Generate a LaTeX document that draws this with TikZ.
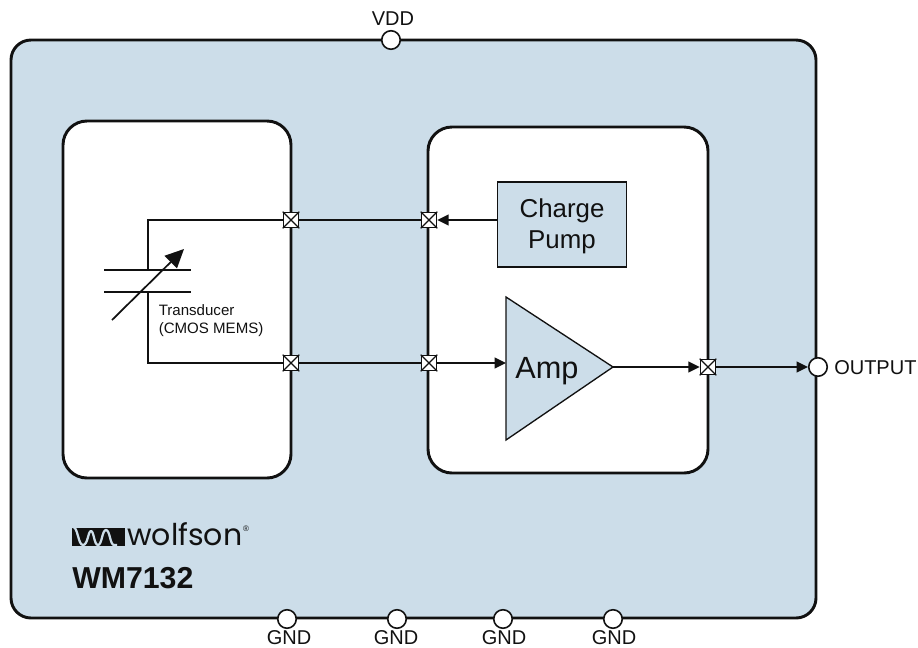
\documentclass[tikz,border=0pt]{standalone}
\usepackage{fontspec}
\setmainfont{Liberation Sans}
\newfontfamily\logofont{Poppins}
\usetikzlibrary{arrows.meta,shapes.geometric}
\definecolor{chipblue}{HTML}{CCDDE9}
\definecolor{ink}{HTML}{111111}
\tikzset{
  chip/.style={draw=ink,line width=2.2pt,fill=chipblue,rounded corners=15pt},
  block/.style={draw=ink,line width=2.2pt,fill=white,rounded corners=18pt},
  pin/.style={circle,draw=ink,line width=1.2pt,fill=white,minimum size=18.5pt*0.75,inner sep=0pt},
  portbox/.style={rectangle,draw=ink,line width=1.2pt,fill=white,minimum size=15pt*0.75,inner sep=0pt},
  wire/.style={draw=ink,line width=1.3pt},
  sig/.style={wire,-{Triangle[length=8.5pt,width=8pt]}},
  lbl/.style={font=\fontsize{15}{17}\selectfont,text=ink,inner sep=0pt},
  blk/.style={draw=ink,line width=1pt,fill=chipblue},
}
\newcommand{\portat}[2]{%
  \node[portbox] (#1) at (#2) {};
  \draw[ink,line width=0.9pt] (#1.north west)--(#1.south east) (#1.north east)--(#1.south west);}
\begin{document}
\begin{tikzpicture}[x=0.75pt,y=-0.75pt]
\useasboundingbox (0,0) rectangle (918,647);
\fill[white] (0,0) rectangle (918,647);
\draw[chip] (11,40) rectangle (816,618);
\draw[block] (63,121) rectangle (291,478);
\draw[block] (428,127) rectangle (708,473);
% pins
\node[pin] (vdd) at (391,40) {};
\node[lbl] (vddl) at (393,19) {VDD};
\node[pin] (out) at (818,367) {};
\node[lbl,anchor=west] (outl) at (834,368) {OUTPUT};
\foreach \n/\x/\tx in {g1/287/289,g2/397/396,g3/503/504,g4/613/614}{
  \node[pin] (\n) at (\x,619) {};
  \node[lbl,anchor=base] at (\tx,644) {GND};
}
% blocks
\node[blk,minimum width=129pt*0.75,minimum height=85pt*0.75,inner sep=0pt] (cp) at (562,224.5) {};
\node[align=center,inner sep=0pt,text=ink,font=\fontsize{19.4}{23.2}\selectfont] (cpl) at (562,226.5) {Charge\\Pump};
\coordinate (a1) at (506,297);
\coordinate (a2) at (506,440);
\coordinate (a3) at (613,367);
\draw[blk] (a1)--(a3)--(a2)--cycle;
\node[font=\fontsize{23}{26}\selectfont,text=ink,inner sep=0pt] (amp) at (547,371) {Amp};
% ports
\portat{p1}{291,220}
\portat{p2}{429,220}
\portat{p3}{291,363}
\portat{p4}{429,363}
\portat{p5}{708,367}
% wires
\coordinate (c1) at (148,270);
\coordinate (c2) at (148,292);
\coordinate (b1) at (148,220);
\coordinate (b2) at (148,363);
\coordinate (pa) at (506,363);
\coordinate (cpw) at (cp.west |- p2);
\draw[wire] (p1.west)--(b1)--(c1);
\draw[wire] (p3.west)--(b2)--(c2);
\draw[wire] (p1.east)--(p2.west);
\draw[wire] (p3.east)--(p4.west);
\draw[sig] (cpw)--(p2.east);
\draw[sig] (p4.east)--(pa);
\draw[sig] (a3)--(p5.west);
\draw[sig] (p5.east)--(out.west);
% capacitor symbol
\coordinate (pl1) at (104,270); \coordinate (pr1) at (191,270);
\coordinate (pl2) at (104,292); \coordinate (pr2) at (191,292);
\draw[wire] (pl1)--(pr1) (pl2)--(pr2);
\coordinate (ar1) at (112,320); \coordinate (ar2) at (184,249);
\draw[draw=ink,line width=1.3pt,-{Triangle[length=14pt,width=13pt]}] (ar1)--(ar2);
\node[anchor=west,align=left,inner sep=0pt,text=ink,font=\fontsize{11.3}{13.5}\selectfont] (tx) at (158.5,321) {Transducer\\(CMOS MEMS)};
% logo
\fill[ink] (72,528) rectangle (125,546);
\draw[chipblue,line width=1.7pt,line join=round] (73,527)
  .. controls (78,527) and (78,545) .. (83,545)
  .. controls (88,545) and (88,531) .. (91,531)
  .. controls (94,531) and (94,545) .. (98,545)
  .. controls (102,545) and (102,530) .. (106,530)
  .. controls (110,530) and (110,545) .. (114,545)
  -- (117,545);
\node[anchor=base west,inner sep=0pt,text=ink,font=\logofont\fontsize{22.5}{26}\selectfont] (wolf) at (127,545.5) {wolfson};
\node[anchor=center,inner sep=0pt,text=ink,font=\fontsize{6}{7}\selectfont] (reg) at (246,528.5) {®};
\node[anchor=base west,inner sep=0pt,text=ink,font=\bfseries\fontsize{22.7}{26}\selectfont] (wm) at (72,588) {WM7132};
\end{tikzpicture}
\end{document}
